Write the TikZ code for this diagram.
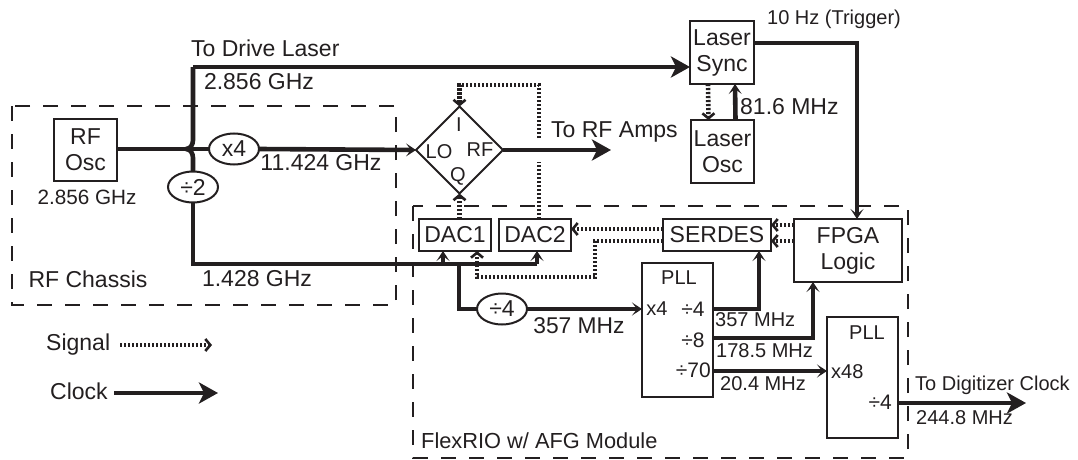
\documentclass[tikz,border=0pt]{standalone}
\usepackage{fontspec}
\setmainfont{Liberation Sans}
\usetikzlibrary{arrows.meta, shapes.geometric, calc}
\definecolor{inkdark}{HTML}{231F20}
\newcommand{\biglab}{\fontsize{23}{25}\selectfont}
\newcommand{\smalllab}{\fontsize{20}{22}\selectfont}
\tikzset{
  boxnode/.style={draw=inkdark,line width=2pt,rectangle,inner sep=0pt,outer sep=0pt,align=center,text=inkdark,font=\biglab},
  ringnode/.style={draw=inkdark,line width=2pt,ellipse,inner sep=0pt,outer sep=0pt,minimum width=50pt,minimum height=31pt,text=inkdark,font=\biglab},
  region/.style={draw=inkdark,line width=2pt,dash pattern=on 15pt off 13pt},
  clock/.style={draw=inkdark,line width=4.6pt},
  clockbig/.style={clock,-{Stealth[length=19pt,width=21pt,inset=5pt]}},
  clocksmall/.style={clock,-{Stealth[length=10pt,width=13pt,inset=5pt]}},
  signal/.style={draw=inkdark,line width=4.6pt,dash pattern=on 2.2pt off 1.8pt,-{Straight Barb[length=5pt,width=12pt,line width=2.6pt]}},
  signalplain/.style={draw=inkdark,line width=4.6pt,dash pattern=on 2.2pt off 1.8pt},
  lab/.style={text=inkdark,inner sep=0pt,font=\biglab},
  lab small/.style={text=inkdark,inner sep=0pt,font=\smalllab}
}
\begin{document}
\begin{tikzpicture}[x=1pt,y=-1pt]
\useasboundingbox (0,0) rectangle (1078,460);

\draw[region] (12,106) rectangle (396,305);
\draw[region] (413,206) rectangle (908,458);

\node[boxnode,minimum width=63pt,minimum height=62pt] (rfosc) at (85.5,150) {RF\\[1pt]Osc};
\node[boxnode,minimum width=64pt,minimum height=63pt] (lasersync) at (722,52.5) {Laser\\[1pt]Sync};
\node[boxnode,minimum width=63pt,minimum height=63pt] (laserosc) at (722.5,151.5) {Laser\\[1pt]Osc};
\node[boxnode,minimum width=72pt,minimum height=32pt] (dacone) at (455,235) {DAC1};
\node[boxnode,minimum width=72pt,minimum height=32pt] (dactwo) at (535,235) {DAC2};
\node[boxnode,minimum width=108pt,minimum height=32pt] (serdes) at (717,235) {SERDES};
\node[boxnode,minimum width=108pt,minimum height=63pt] (fpga) at (848,250.5) {FPGA\\[1pt]Logic};
\node[boxnode,minimum width=71pt,minimum height=134pt] (pllone) at (677.5,330) {};
\node[boxnode,minimum width=71pt,minimum height=121pt] (plltwo) at (862.5,377.5) {};
\node[boxnode,diamond,aspect=1,minimum width=87pt,minimum height=87pt] (mixer) at (459.5,150) {};

\node[ringnode] (timesfour) at (234,149) {x4};
\node[ringnode] (divtwo) at (193,187) {÷2};
\node[ringnode] (divfour) at (502,309) {÷4};

\coordinate (backone) at (595,277);
\coordinate (backtwo) at (477,277);
\draw[signal] ($(serdes.west)+(0,6)$) -| (backone) -- (backtwo) -- (backtwo |- dacone.south);

\coordinate (split) at (186,149);
\coordinate (upstart) at (193,140);
\coordinate (downstart) at (193,158);
\coordinate (upbend) at (193,67);
\coordinate (lowbend) at (193,264);
\coordinate (dactwofeed) at ($(lowbend -| dactwo.south)+(2,0)$);
\draw[clock] (rfosc.east |- split) -- (timesfour.west);
\draw[clock] (split) to[out=0,in=-90] (upstart) -- (upbend);
\draw[clockbig] (upbend) -- (upbend -| lasersync.west);
\draw[clock] (split) to[out=0,in=90] (downstart) -- (divtwo.north);
\draw[clock] (divtwo.south) -- (lowbend) -- (dactwofeed);
\draw[clocksmall] (dactwofeed) -- ($(dactwo.south)+(2,0)$);
\draw[clocksmall] (timesfour.east) -- (mixer.west);
\coordinate (ampsend) at (611,150);
\draw[clockbig] (mixer.east) -- (ampsend);

\coordinate (dacfeed) at (443,264);
\draw[clocksmall] (dacfeed) -- (dacfeed |- dacone.south);

\coordinate (dropfour) at (459,264);
\draw[clock] (dropfour) |- (divfour.west);
\draw[clocksmall] (divfour.east) -- (divfour.east -| pllone.west);

\coordinate (foutone) at (713,309);
\draw[clocksmall] (foutone) -| ($(serdes.south)+(42,0)$);
\coordinate (fouttwo) at (713,338);
\coordinate (fpgafeed) at (813,282);
\draw[clocksmall] (fouttwo) -| (fpgafeed);
\coordinate (foutthree) at (713,371);
\draw[clocksmall] (foutthree) -- (foutthree -| plltwo.west);
\coordinate (foutdig) at (898,403);
\coordinate (digiend) at (1026,403);
\draw[clockbig] (foutdig) -- (digiend);

\coordinate (trigbend) at (857,43);
\draw[clocksmall] (lasersync.east |- trigbend) -- (trigbend) -- (trigbend |- fpga.north);
\draw[clocksmall] ($(laserosc.north)+(13,0)$) -- ($(lasersync.south)+(13,0)$);
\draw[signal] ($(lasersync.south)+(-14,0)$) -- ($(laserosc.north)+(-14,0)$);

\coordinate (ilow) at (539,162);
\coordinate (ihigh) at (539,138);
\coordinate (ibend) at (539,85);
\draw[signalplain] (ilow |- dactwo.north) -- (ilow);
\draw[signal] (ihigh) -- (ibend) -| (mixer.north);
\draw[signal] (mixer.south |- dacone.north) -- (mixer.south);
\draw[signal] ($(serdes.west)+(0,-6)$) -- ($(dactwo.east)+(0,-6)$);
\draw[signal] ($(fpga.west |- serdes.north)+(0,6)$) -- ($(serdes.north east)+(0,6)$);
\draw[signal] ($(fpga.west |- serdes.south)+(0,-10)$) -- ($(serdes.south east)+(0,-10)$);

\draw (459,125) node[lab small] (mixi) {I};
\draw (439,152) node[lab small] (mixlo) {LO};
\draw (480,150) node[lab small] (mixrf) {RF};
\draw (458,176) node[lab small] (mixq) {Q};

\draw (191,48) node[anchor=west,lab] (drivelabel) {To Drive Laser};
\draw (259,82) node[lab] (drivefreq) {2.856 GHz};
\draw (87,197) node[lab,font=\fontsize{20.7}{22}\selectfont] (oscfreq) {2.856 GHz};
\draw (321,163) node[lab] (mixfreq) {11.424 GHz};
\draw (88,279) node[lab] (chassislabel) {RF Chassis};
\draw (257,279) node[lab] (lowfreq) {1.428 GHz};
\draw (551,132) node[anchor=west,lab] (ampslabel) {To RF Amps};
\draw (834,19) node[lab small] (triglabel) {10 Hz (Trigger)};
\draw (740,107) node[anchor=west,lab] (oscfreqtwo) {81.6 MHz};
\draw (579,326) node[lab small,font=\fontsize{22.8}{24}\selectfont] (pllinfreq) {357 MHz};
\draw (715,320) node[anchor=west,lab small] (outfreqone) {357 MHz};
\draw (716,351) node[anchor=west,lab small] (outfreqtwo) {178.5 MHz};
\draw (720,384) node[anchor=west,lab small] (outfreqthree) {20.4 MHz};
\draw (915,385) node[anchor=west,lab small] (digilabel) {To Digitizer Clock};
\draw (916,418) node[anchor=west,lab small] (digifreq) {244.8 MHz};
\draw (421,441) node[anchor=west,lab,font=\fontsize{21.8}{24}\selectfont] (flexlabel) {FlexRIO w/ AFG Module};

\draw (679,278) node[lab small] (plloneti) {PLL};
\draw (657,309) node[lab small] (pllonex) {x4};
\draw (693,309) node[lab small,font=\fontsize{21}{22}\selectfont] (pllonea) {÷4};
\draw (693,340) node[lab small,font=\fontsize{21}{22}\selectfont] (plloneb) {÷8};
\draw (711,370) node[anchor=east,lab small,font=\fontsize{21}{22}\selectfont] (pllonec) {÷70};
\draw (867,333) node[lab small] (plltwoti) {PLL};
\draw (831,372) node[anchor=west,lab small] (plltwox) {x48};
\draw (892,402) node[anchor=east,lab small,font=\fontsize{21}{22}\selectfont] (plltwod) {÷4};

\draw (46,345) node[anchor=west,lab] (signalkey) {Signal};
\coordinate (signalstart) at (120,345);
\coordinate (signalend) at (212,345);
\draw[signal] (signalstart) -- (signalend);
\draw (50,391) node[anchor=west,lab] (clockkey) {Clock};
\coordinate (clockstart) at (114,393);
\coordinate (clockend) at (218,393);
\draw[clockbig] (clockstart) -- (clockend);
\end{tikzpicture}
\end{document}
